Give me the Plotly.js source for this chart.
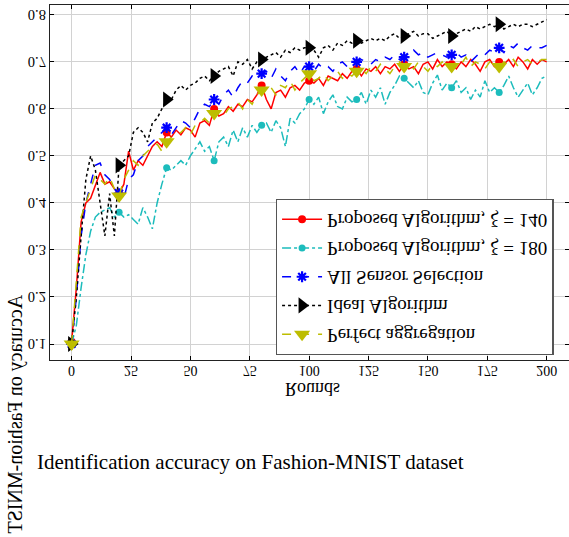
<!DOCTYPE html>
<html>
<head>
<meta charset="utf-8">
<script src="https://cdn.plot.ly/plotly-3.0.1.min.js"></script>
<style>
  html, body { margin: 0; padding: 0; background: #fff; }
  #chart { width: 569px; height: 537px; }
</style>
</head>
<body>
<div id="chart"></div>
<script>
// ---------- data ----------
const rounds = [0,2,4,6,8,10,12,14,16,18,20,22,24,26,28,30,32,34,36,38,40,42,44,46,48,50,52,54,56,58,60,62,64,66,68,70,72,74,76,78,80,82,84,86,88,90,92,94,96,98,100,102,104,106,108,110,112,114,116,118,120,122,124,126,128,130,132,134,136,138,140,142,144,146,148,150,152,154,156,158,160,162,164,166,168,170,172,174,176,178,180,182,184,186,188,190,192,194,196,198,200];

const markerRounds = [0,20,40,60,80,100,120,140,160,180];

const seriesNames = [
  'Proposed Algorithm, \u03BE = 140',
  'Proposed Algorithm, \u03BE = 180',
  'All Sensor Selection',
  'Ideal Algorithm',
  'Perfect aggregation'
];

const proposed140 = [
0.105,0.22,0.36,0.40,0.41,0.44,0.465,0.44,0.445,0.43,
0.42,0.44,0.51,0.47,0.49,0.48,0.50,0.52,0.53,0.52,
0.55,0.54,0.555,0.545,0.56,0.555,0.54,0.57,0.575,0.565,
0.60,0.585,0.59,0.605,0.595,0.61,0.605,0.62,0.615,0.63,
0.65,0.62,0.60,0.635,0.64,0.625,0.645,0.65,0.64,0.655,
0.66,0.655,0.665,0.65,0.67,0.665,0.66,0.675,0.665,0.68,
0.685,0.67,0.685,0.68,0.69,0.675,0.69,0.685,0.695,0.68,
0.695,0.685,0.69,0.675,0.695,0.70,0.685,0.705,0.69,0.70,
0.695,0.685,0.70,0.69,0.705,0.695,0.68,0.70,0.705,0.69,
0.70,0.695,0.705,0.69,0.71,0.70,0.685,0.705,0.695,0.705,
0.70];

const proposed180 = [
0.10,0.14,0.22,0.29,0.34,0.37,0.38,0.385,0.39,0.37,
0.38,0.37,0.375,0.365,0.355,0.39,0.37,0.345,0.40,0.44,
0.475,0.47,0.48,0.49,0.48,0.50,0.515,0.53,0.51,0.52,
0.49,0.53,0.54,0.52,0.555,0.53,0.56,0.54,0.565,0.55,
0.565,0.57,0.55,0.575,0.56,0.52,0.58,0.57,0.59,0.60,
0.62,0.61,0.625,0.59,0.615,0.63,0.605,0.60,0.625,0.615,
0.62,0.635,0.61,0.64,0.625,0.645,0.61,0.635,0.65,0.67,
0.665,0.655,0.645,0.66,0.635,0.63,0.655,0.672,0.64,0.655,
0.645,0.66,0.635,0.645,0.62,0.64,0.625,0.66,0.635,0.645,
0.635,0.65,0.67,0.645,0.625,0.64,0.655,0.63,0.645,0.665,
0.67];

const allSensor = [
0.10,0.20,0.33,0.40,0.44,0.48,0.485,0.46,0.45,0.43,
0.42,0.41,0.45,0.46,0.49,0.50,0.52,0.53,0.54,0.55,
0.56,0.545,0.56,0.575,0.57,0.56,0.58,0.60,0.61,0.605,
0.62,0.61,0.63,0.64,0.625,0.645,0.66,0.655,0.67,0.665,
0.675,0.68,0.665,0.685,0.67,0.66,0.68,0.69,0.675,0.69,
0.69,0.68,0.695,0.685,0.69,0.68,0.695,0.70,0.69,0.695,
0.70,0.705,0.70,0.695,0.705,0.70,0.71,0.705,0.715,0.705,
0.71,0.715,0.725,0.715,0.72,0.71,0.715,0.72,0.715,0.71,
0.715,0.72,0.71,0.715,0.70,0.71,0.72,0.715,0.725,0.72,
0.73,0.72,0.735,0.73,0.74,0.73,0.725,0.735,0.73,0.73,
0.735];

const ideal = [
0.10,0.20,0.33,0.45,0.50,0.47,0.40,0.33,0.42,0.33,
0.48,0.49,0.50,0.55,0.56,0.55,0.53,0.57,0.58,0.60,
0.62,0.62,0.64,0.65,0.64,0.65,0.655,0.665,0.67,0.66,
0.67,0.68,0.685,0.69,0.67,0.70,0.695,0.705,0.685,0.70,
0.705,0.71,0.715,0.72,0.71,0.725,0.72,0.73,0.725,0.73,
0.73,0.725,0.71,0.73,0.735,0.725,0.74,0.735,0.745,0.74,
0.745,0.74,0.745,0.75,0.745,0.75,0.745,0.755,0.76,0.75,
0.755,0.76,0.765,0.755,0.76,0.76,0.75,0.755,0.76,0.765,
0.755,0.76,0.765,0.77,0.765,0.775,0.77,0.775,0.78,0.775,
0.78,0.77,0.775,0.78,0.775,0.78,0.78,0.775,0.78,0.785,
0.79];

const perfectAgg = [
0.10,0.24,0.37,0.40,0.43,0.46,0.45,0.44,0.455,0.43,
0.415,0.45,0.47,0.49,0.48,0.50,0.51,0.52,0.525,0.51,
0.53,0.54,0.545,0.55,0.56,0.545,0.565,0.57,0.58,0.57,
0.59,0.595,0.585,0.60,0.605,0.615,0.60,0.62,0.61,0.63,
0.64,0.635,0.645,0.63,0.65,0.645,0.66,0.64,0.655,0.665,
0.675,0.66,0.665,0.675,0.66,0.67,0.68,0.665,0.675,0.67,
0.68,0.685,0.675,0.69,0.68,0.695,0.685,0.675,0.69,0.70,
0.69,0.695,0.685,0.70,0.69,0.68,0.695,0.69,0.70,0.685,
0.69,0.70,0.695,0.71,0.69,0.70,0.695,0.685,0.70,0.695,
0.69,0.70,0.695,0.705,0.69,0.70,0.705,0.695,0.70,0.705,
0.705];

const xTickVals = [0,25,50,75,100,125,150,175,200];
const xTickText = ['0','25','50','75','100','125','150','175','200'];
const yTickVals = [0.1,0.2,0.3,0.4,0.5,0.6,0.7,0.8];
const yTickText = ['0.1','0.2','0.3','0.4','0.5','0.6','0.7','0.8'];

const xTitle = 'Rounds';
const yTitle = 'Accuracy on Fashion-MNIST';
const caption = 'Identification accuracy on Fashion-MNIST dataset';

// ---------- styles ----------
const styles = [
  {color:'#ff0000', dash:'solid',   symbol:'circle',        size:8,  lineW:0},
  {color:'#1cbcbc', dash:'dashdot', symbol:'circle',        size:7,  lineW:0},
  {color:'#0000ff', dash:'dash',    symbol:'asterisk',      size:9,  lineW:2.2},
  {color:'#000000', dash:'dot',     symbol:'triangle-right',size:14, lineW:0},
  {color:'#bdbd00', dash:'dash',    symbol:'triangle-down', size:14, lineW:0}
];
const seriesData = [proposed140, proposed180, allSensor, ideal, perfectAgg];
const markerIdx = markerRounds.map(r => rounds.indexOf(r));

const traces = seriesData.map((ys, i) => {
  const s = styles[i];
  return {
    type:'scatter', mode:'lines+markers',
    name: seriesNames[i], legendgroup: 'g' + i,
    x: rounds, y: ys,
    line:{color:s.color, width:1.5, dash:s.dash},
    marker:{color:s.color, symbol:s.symbol, size:s.size,
            line:{color:s.color, width:s.lineW}},
    selectedpoints: markerIdx,
    selected:{marker:{opacity:1}},
    unselected:{marker:{opacity:0}}
  };
});

const FONT = 'Liberation Serif, Times New Roman, serif';
const layout = {
  width:569, height:537,
  margin:{l:50, r:0, t:5, b:177, pad:0},
  paper_bgcolor:'#ffffff', plot_bgcolor:'#ffffff',
  font:{family:FONT, color:'#000', size:15},
  showlegend:true,
  legend:{x:0.435, y:0.453, xanchor:'left', yanchor:'top',
          bgcolor:'#ffffff', bordercolor:'#555555', borderwidth:1.3,
          font:{family:FONT, size:19, color:'#000'}, itemwidth:40, tracegroupgap:1},
  xaxis:{range:[-9.1,209.4], tickmode:'array', tickvals:xTickVals, ticktext:xTickText,
         ticks:'inside', ticklen:4, tickcolor:'#000', showline:true, mirror:'ticks',
         linecolor:'#222', linewidth:1.2, showgrid:true, gridcolor:'#d2d2d2', gridwidth:1,
         zeroline:false, tickfont:{family:FONT, size:14}},
  yaxis:{range:[0.066,0.821], tickmode:'array', tickvals:yTickVals, ticktext:yTickText,
         ticks:'inside', ticklen:4, tickcolor:'#000', showline:true, mirror:'ticks',
         linecolor:'#222', linewidth:1.2, showgrid:true, gridcolor:'#d2d2d2', gridwidth:1,
         zeroline:false, tickfont:{family:FONT, size:14.5}},
  annotations:[
    {text:xTitle, xref:'paper', yref:'paper', x:0.505, y:-0.081,
     xanchor:'center', yanchor:'middle', showarrow:false,
     font:{family:FONT, size:18, color:'#000'}},
    {text:yTitle, xref:'paper', yref:'paper', x:-0.067, y:-0.152,
     xanchor:'center', yanchor:'middle', textangle:90, showarrow:false,
     font:{family:FONT, size:20, color:'#000'}},
    {text:caption, xref:'paper', yref:'paper', x:-0.028, y:-0.287,
     xanchor:'left', yanchor:'middle', showarrow:false,
     font:{family:FONT, size:21, color:'#000'}}
  ]
};

Plotly.newPlot('chart', traces, layout, {staticPlot:true, displayModeBar:false}).then(function(gd){
  // lift the x tick labels a little closer to the axis, as in the reference
  gd.querySelectorAll('.xaxislayer-above text').forEach(function(t){
    var y = parseFloat(t.getAttribute('y') || '0');
    t.setAttribute('y', y - 3);
    t.querySelectorAll('tspan').forEach(function(s){
      if (s.getAttribute('y') !== null) s.setAttribute('y', parseFloat(s.getAttribute('y')) - 3);
    });
  });
  // the reference shows every chart label mirrored top-to-bottom; reproduce that
  gd.querySelectorAll('svg text').forEach(function(t){
    if (t.textContent.indexOf('Identification') === 0) return;
    var bb = t.getBBox();
    if (!bb.height) return;
    var cy = bb.y + bb.height / 2;
    var tr = t.getAttribute('transform') || '';
    t.setAttribute('transform', tr + ' translate(0,' + (2 * cy) + ') scale(1,-1)');
  });
});
</script>
</body>
</html>
